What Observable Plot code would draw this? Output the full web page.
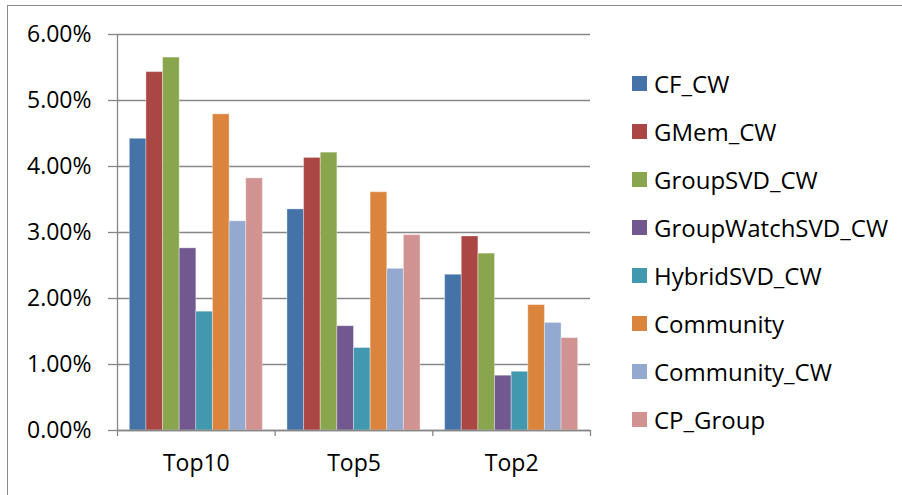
<!DOCTYPE html>
<html><head><meta charset="utf-8">
<script src="https://cdn.jsdelivr.net/npm/d3@7"></script>
<script src="https://cdn.jsdelivr.net/npm/@observablehq/plot@0.6"></script>
<style>
html,body{margin:0;padding:0;background:#fff;}
#wrap{position:relative;width:902px;height:495px;overflow:hidden;font-family:"Open Sans",sans-serif;}
#border{position:absolute;left:7px;top:5px;width:900px;height:500px;border-left:1.5px solid #8a8a8a;border-top:1.5px solid #8a8a8a;box-sizing:border-box;}
#chart{position:absolute;left:0;top:0;}
#legend{position:absolute;left:632px;top:59px;}
.item{display:flex;align-items:center;height:48.1px;font-size:24px;color:#000;white-space:nowrap;}
.sw{width:15px;height:15px;margin-right:7px;flex:none;}
</style></head>
<body>
<div id="wrap"><div id="border"></div><div id="chart"></div><div id="legend"></div></div>
<script>
const categories = ["Top10", "Top5", "Top2"];
const seriesNames = ["CF_CW", "GMem_CW", "GroupSVD_CW", "GroupWatchSVD_CW", "HybridSVD_CW", "Community", "Community_CW", "CP_Group"];
const colors = ["#4572A7", "#AA4643", "#89A54E", "#71588F", "#4198AF", "#DB843D", "#93A9CF", "#D19392"];
// values in percent, one array per series: [Top10, Top5, Top2]
const CF_CW = [4.42, 3.35, 2.36];
const GMem_CW = [5.43, 4.13, 2.94];
const GroupSVD_CW = [5.65, 4.21, 2.68];
const GroupWatchSVD_CW = [2.76, 1.58, 0.83];
const HybridSVD_CW = [1.80, 1.25, 0.89];
const Community = [4.79, 3.61, 1.90];
const Community_CW = [3.17, 2.45, 1.63];
const CP_Group = [3.82, 2.96, 1.40];
const yTicks = [0, 0.01, 0.02, 0.03, 0.04, 0.05, 0.06];

const seriesValues = [CF_CW, GMem_CW, GroupSVD_CW, GroupWatchSVD_CW, HybridSVD_CW, Community, Community_CW, CP_Group];
const n = seriesNames.length;
const outer = 0.74;
const step = 1 / (n + 2 * outer);
const data = [];
categories.forEach((c, i) => {
  seriesNames.forEach((s, j) => {
    const x1 = i + (outer + j) * step;
    data.push({category: c, series: s, x1, x2: x1 + step, value: seriesValues[j][i] / 100});
  });
});

const gray = "#878787";
const chart = Plot.plot({
  width: 902,
  height: 495,
  marginLeft: 117,
  marginRight: 312,
  marginTop: 34,
  marginBottom: 65,
  style: {fontFamily: "'Open Sans', sans-serif", fontSize: "23px", color: "#000", background: "transparent"},
  x: {domain: [0, categories.length], axis: null},
  y: {domain: [0, 0.06], axis: null},
  color: {domain: seriesNames, range: colors},
  marks: [
    Plot.gridY(yTicks, {stroke: gray, strokeOpacity: 1, strokeWidth: 1.3}),
    Plot.axisY({ticks: yTicks, tickSize: 9, tickPadding: 17, stroke: gray, strokeWidth: 1.3,
      tickFormat: d => (d * 100).toFixed(2) + "%", fontSize: 23, label: null}),
    Plot.rectY(data, {x1: "x1", x2: "x2", y: "value", fill: "series", stroke: "white", strokeOpacity: 0.35, strokeWidth: 1}),
    Plot.ruleX([0], {stroke: gray, strokeWidth: 1.3}),
    Plot.ruleY([0], {stroke: gray, strokeWidth: 1.3}),
    Plot.axisX({ticks: d3.range(categories.length + 1), tickSize: 6, tickFormat: () => "", stroke: gray, strokeWidth: 1.3, label: null}),
    Plot.axisX({ticks: categories.map((c, i) => i + 0.5), tickSize: 0, tickPadding: 24,
      tickFormat: d => categories[Math.floor(d)], fontSize: 23, label: null})
  ]
});
document.getElementById("chart").appendChild(chart);

const legend = document.getElementById("legend");
seriesNames.forEach((s, j) => {
  const it = document.createElement("div");
  it.className = "item";
  it.innerHTML = `<span class="sw" style="background:${colors[j]}"></span><span>${s}</span>`;
  legend.appendChild(it);
});
</script>
</body></html>
